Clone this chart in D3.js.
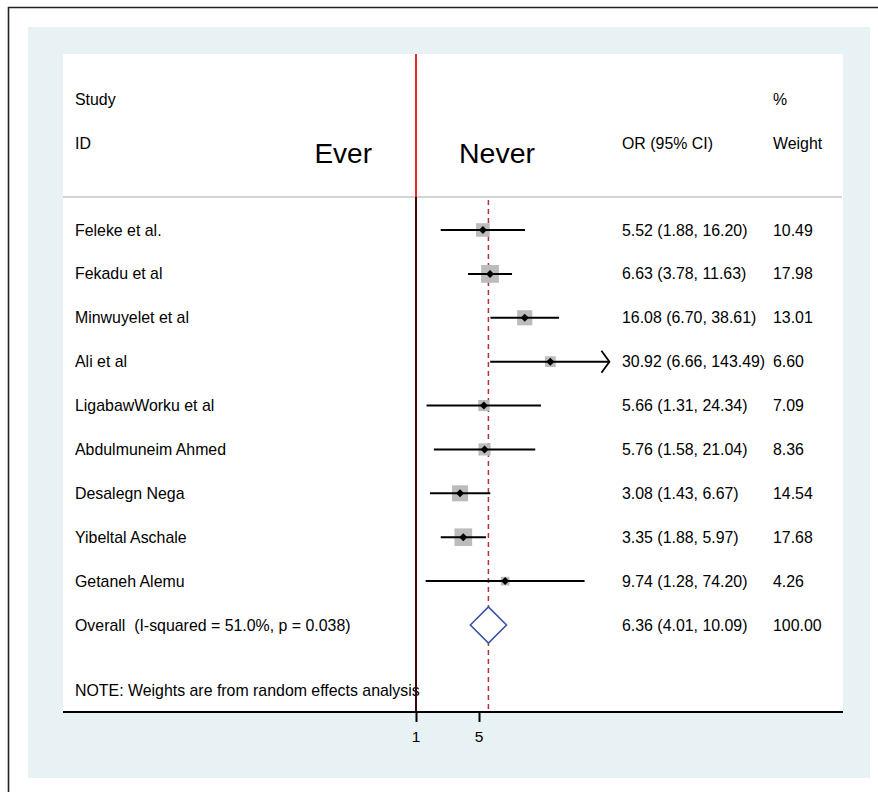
<!DOCTYPE html>
<html>
<head>
<meta charset="utf-8">
<script src="https://cdn.jsdelivr.net/npm/d3@7"></script>
<style>
  html, body { margin: 0; padding: 0; background: #ffffff; }
  svg { display: block; }
  text { font-family: "Liberation Sans", Arial, Helvetica, sans-serif; fill: #000; white-space: pre; }
</style>
</head>
<body>
<svg id="chart" width="878" height="792"></svg>
<script>
// Study-level odds ratios (ever vs never) with 95% CI and random-effects weights
const studies = [
  "Feleke et al.",
  "Fekadu et al",
  "Minwuyelet et al",
  "Ali et al",
  "LigabawWorku et al",
  "Abdulmuneim Ahmed",
  "Desalegn Nega",
  "Yibeltal Aschale",
  "Getaneh Alemu"
];
const oddsRatio = [5.52, 6.63, 16.08, 30.92, 5.66, 5.76, 3.08, 3.35, 9.74];
const ciLower   = [1.88, 3.78, 6.70, 6.66, 1.31, 1.58, 1.43, 1.88, 1.28];
const ciUpper   = [16.20, 11.63, 38.61, 143.49, 24.34, 21.04, 6.67, 5.97, 74.20];
const weights   = [10.49, 17.98, 13.01, 6.60, 7.09, 8.36, 14.54, 17.68, 4.26];

const overallLabel = "Overall  (I-squared = 51.0%, p = 0.038)";
const overall = { or: 6.36, lo: 4.01, hi: 10.09, weight: 100.00 };

const xTicks = [1, 5];
const xClipMax = 140;   // CI segments beyond this end in an arrow
const noteText = "NOTE: Weights are from random effects analysis";

const fmt = d3.format(".2f");
const fs = 15.9;

const svg = d3.select("#chart");

// Frame, outer panel and plot region
svg.append("path")
  .attr("d", "M8.5,900 V7.5 H900")
  .attr("fill", "none").attr("stroke", "#222").attr("stroke-width", 1.6);
svg.append("rect")
  .attr("x", 28).attr("y", 27).attr("width", 842).attr("height", 751)
  .attr("fill", "#e8f1f3");
const plot = { left: 63, right: 843, top: 54, bottom: 712 };
svg.append("rect")
  .attr("x", plot.left).attr("y", plot.top)
  .attr("width", plot.right - plot.left).attr("height", plot.bottom - plot.top)
  .attr("fill", "#ffffff");

// Scales: log odds ratio horizontally, one row per study vertically
const x = d3.scaleLog().domain([1, 5]).range([416, 479]);
const y = d3.scaleLinear().domain([0, studies.length]).range([230, 625]);
const boxSide = w => 4.2 * Math.sqrt(w);

// Header
const headerLine = 197;
svg.append("line")
  .attr("x1", plot.left).attr("x2", plot.right - 1)
  .attr("y1", headerLine).attr("y2", headerLine)
  .attr("stroke", "#c4c4c4").attr("stroke-width", 1.5);

const colLabel = 75, colOR = 622, colW = 773;
const header = svg.append("g").attr("font-size", fs);
header.append("text").attr("x", colLabel).attr("y", 105).text("Study");
header.append("text").attr("x", colLabel).attr("y", 149).text("ID");
header.append("text").attr("x", colOR).attr("y", 149).text("OR (95% CI)");
header.append("text").attr("x", colW).attr("y", 105).text("%");
header.append("text").attr("x", colW).attr("y", 149).text("Weight");

svg.append("text").attr("x", 372).attr("y", 163).attr("text-anchor", "end")
  .attr("font-size", 28).text("Ever");
svg.append("text").attr("x", 459).attr("y", 163)
  .attr("font-size", 28.5).text("Never");

// Note text
svg.append("text").attr("x", colLabel).attr("y", 696).attr("font-size", fs).text(noteText);

// Null line (OR = 1): red across the header, dark below
svg.append("line")
  .attr("x1", x(1)).attr("x2", x(1)).attr("y1", plot.top).attr("y2", headerLine)
  .attr("stroke", "#e5262b").attr("stroke-width", 2);
svg.append("line")
  .attr("x1", x(1)).attr("x2", x(1)).attr("y1", headerLine).attr("y2", plot.bottom)
  .attr("stroke", "#3d0808").attr("stroke-width", 2);

// Pooled-estimate reference line
svg.append("line")
  .attr("x1", x(overall.or)).attr("x2", x(overall.or))
  .attr("y1", headerLine + 3).attr("y2", plot.bottom)
  .attr("stroke", "#b3303c").attr("stroke-width", 1.5)
  .attr("stroke-dasharray", "5,4");

// Study rows
const rows = svg.append("g").selectAll("g").data(studies).join("g");

rows.append("rect")
  .attr("x", (d, i) => x(oddsRatio[i]) - boxSide(weights[i]) / 2)
  .attr("y", (d, i) => y(i) - boxSide(weights[i]) / 2)
  .attr("width", (d, i) => boxSide(weights[i]))
  .attr("height", (d, i) => boxSide(weights[i]))
  .attr("fill", "#bcbcbc");

rows.append("line")
  .attr("x1", (d, i) => x(ciLower[i]))
  .attr("x2", (d, i) => x(Math.min(ciUpper[i], xClipMax)))
  .attr("y1", (d, i) => y(i)).attr("y2", (d, i) => y(i))
  .attr("stroke", "#000").attr("stroke-width", 2);

rows.filter((d, i) => ciUpper[i] > xClipMax)
  .append("path")
  .attr("d", (d) => {
    const i = studies.indexOf(d);
    const tx = x(xClipMax), ty = y(i);
    return `M${tx - 8},${ty - 11} L${tx},${ty} L${tx - 8},${ty + 11}`;
  })
  .attr("fill", "none").attr("stroke", "#000").attr("stroke-width", 1.8);

rows.append("path")
  .attr("transform", (d, i) => `translate(${x(oddsRatio[i])},${y(i)})`)
  .attr("d", "M0,-4 L4,0 L0,4 L-4,0 Z")
  .attr("fill", "#000");

const rowText = rows.append("g").attr("font-size", fs);
rowText.append("text").attr("x", colLabel).attr("y", (d, i) => y(i) + 5.5).text(d => d);
rowText.append("text").attr("x", colOR).attr("y", (d, i) => y(i) + 5.5)
  .text((d, i) => `${fmt(oddsRatio[i])} (${fmt(ciLower[i])}, ${fmt(ciUpper[i])})`);
rowText.append("text").attr("x", colW).attr("y", (d, i) => y(i) + 5.5)
  .text((d, i) => fmt(weights[i]));

// Overall row with pooled diamond
const yo = y(studies.length);
svg.append("path")
  .attr("d", `M${x(overall.lo)},${yo} L${x(overall.or)},${yo - 18} L${x(overall.hi)},${yo} L${x(overall.or)},${yo + 18} Z`)
  .attr("fill", "#ffffff").attr("stroke", "#3a53a4").attr("stroke-width", 1.6);
const ov = svg.append("g").attr("font-size", fs);
ov.append("text").attr("x", colLabel).attr("y", yo + 5.5).text(overallLabel);
ov.append("text").attr("x", colOR).attr("y", yo + 5.5)
  .text(`${fmt(overall.or)} (${fmt(overall.lo)}, ${fmt(overall.hi)})`);
ov.append("text").attr("x", colW).attr("y", yo + 5.5).text(fmt(overall.weight));

// X axis: baseline, tick marks from d3.axisBottom, labels set in body font
const axis = d3.axisBottom(x).tickValues(xTicks).tickFormat("")
  .tickSize(10).tickSizeOuter(0);
const ax = svg.append("g").attr("transform", `translate(0,${plot.bottom})`).call(axis);
ax.select(".domain").remove();
ax.append("line").attr("x1", plot.left).attr("x2", plot.right)
  .attr("stroke", "#000").attr("stroke-width", 2);
ax.selectAll(".tick line").attr("stroke", "#000").attr("stroke-width", 2);
ax.selectAll(".tick text").remove();
ax.selectAll("text.tick-label").data(xTicks).join("text")
  .attr("class", "tick-label")
  .attr("x", d => x(d)).attr("y", 30)
  .attr("text-anchor", "middle")
  .attr("font-size", 15.5)
  .text(d => d3.format("d")(d));
</script>
</body>
</html>
